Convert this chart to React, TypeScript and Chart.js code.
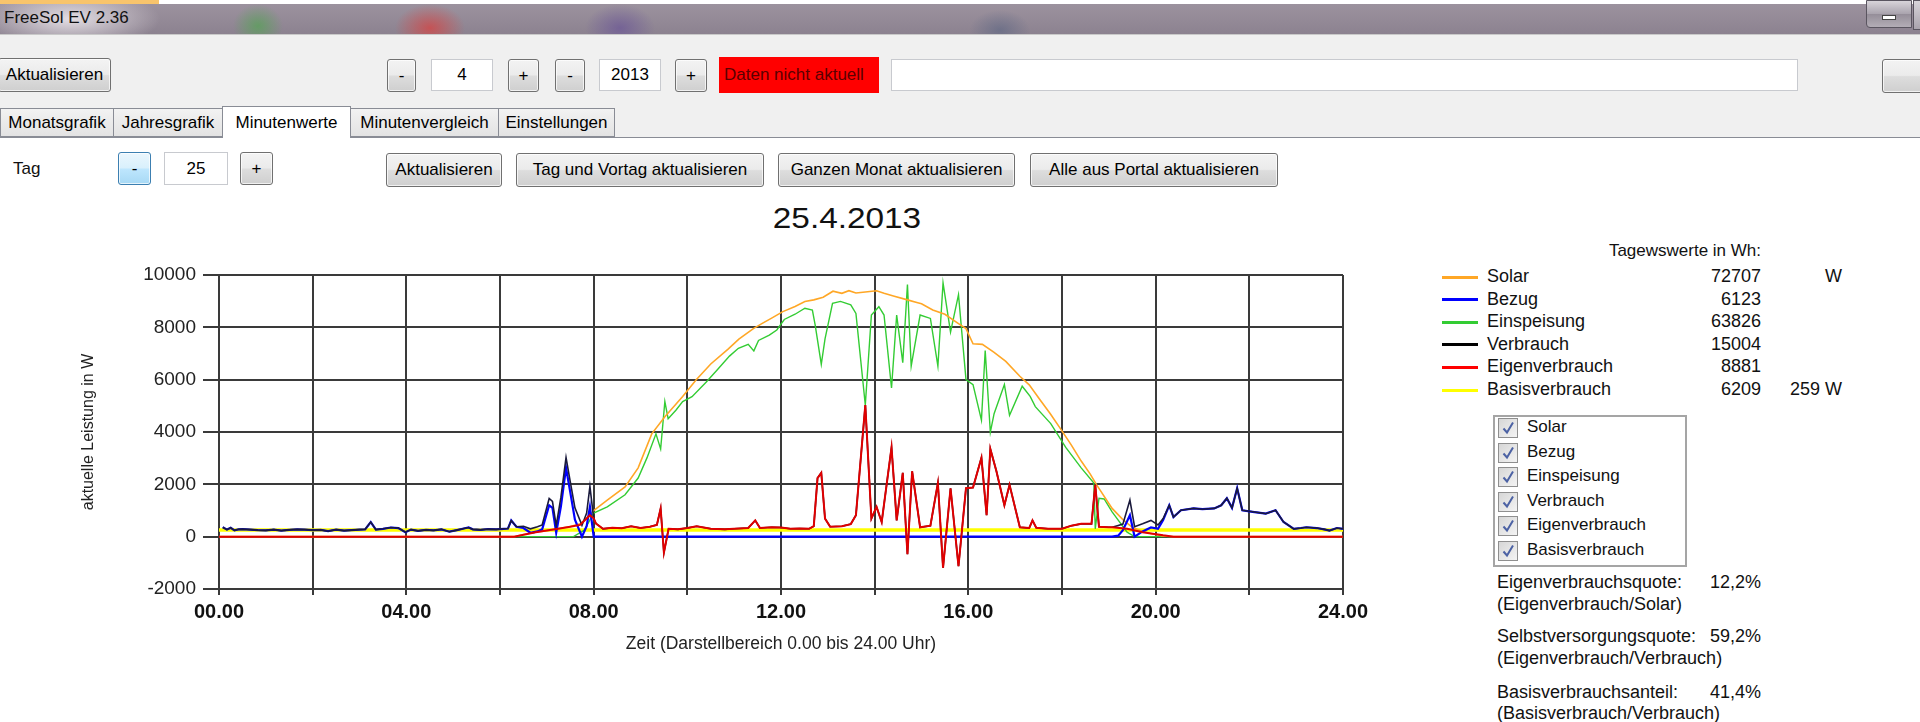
import React, { useEffect, useRef } from "react";
import { Chart, registerables } from "chart.js";

Chart.register(...registerables);

const FONT = '"Liberation Sans", Arial, sans-serif';

// ---------- chart data (hours -> watts) ----------
const solarTimes = [0, 6.3, 6.5, 6.76, 7.0, 7.24, 7.5, 7.71, 7.85, 8.0, 8.29, 8.67, 8.95, 9.24, 9.52, 9.9, 10.19, 10.5, 10.87, 11.1, 11.41, 11.6, 11.8, 12.04, 12.3, 12.51, 12.7, 12.9, 13.11, 13.3, 13.45, 13.6, 13.8, 14.04, 14.2, 14.4, 14.7, 14.9, 15.0, 15.24, 15.5, 15.79, 15.95, 16.1, 16.3, 16.55, 16.8, 17.1, 17.3, 17.53, 17.75, 17.97, 18.2, 18.41, 18.6, 18.74, 19.07, 19.3, 19.5, 19.72, 19.94, 20.15, 20.38, 24];
const solarValues = [0, 0, 80, 170, 230, 300, 390, 490, 700, 1000, 1400, 1900, 2630, 3930, 4580, 5360, 6000, 6600, 7170, 7550, 7950, 8150, 8350, 8600, 8800, 8990, 9050, 9150, 9380, 9300, 9400, 9310, 9350, 9400, 9300, 9200, 9050, 8950, 8900, 8660, 8500, 8140, 7950, 7370, 7350, 7040, 6700, 6130, 5800, 5230, 4700, 4120, 3500, 2890, 2400, 1980, 1080, 650, 360, 200, 100, 30, 0, 0];

const einTimes = [0, 7.57, 7.8, 8.0, 8.29, 8.67, 8.95, 9.14, 9.33, 9.43, 9.52, 9.59, 9.76, 9.9, 10.1, 10.4, 10.65, 10.9, 11.09, 11.3, 11.42, 11.52, 11.75, 11.91, 12.07, 12.3, 12.51, 12.67, 12.73, 12.86, 12.94, 13.1, 13.27, 13.49, 13.6, 13.8, 13.93, 14.09, 14.2, 14.36, 14.47, 14.6, 14.7, 14.78, 14.97, 15.19, 15.35, 15.46, 15.62, 15.79, 15.95, 16.1, 16.28, 16.36, 16.47, 16.55, 16.77, 16.88, 17.15, 17.32, 17.43, 17.76, 18.08, 18.41, 18.68, 18.71, 18.79, 18.9, 19.07, 19.39, 19.55, 24];
const einValues = [0, 0, 250, 900, 1140, 1600, 2240, 3020, 3930, 3350, 5160, 4510, 4840, 5160, 5350, 5900, 6400, 6900, 7200, 7350, 7100, 7500, 7700, 7900, 8300, 8500, 8730, 8660, 8080, 6590, 7560, 8920, 8990, 8860, 8530, 5030, 8470, 8790, 8470, 5680, 8470, 6650, 9640, 6520, 8470, 8340, 6520, 9700, 7820, 9250, 6000, 5810, 4450, 7110, 3990, 4700, 5810, 4640, 5750, 5360, 4970, 4320, 3410, 2630, 2050, 300, 1470, 1440, 950, 170, 0, 0];

const eigenMorningTimes = [0, 6.3, 6.76, 7.24, 7.5, 7.71, 7.92, 8.0];
const eigenMorningValues = [0, 0, 170, 300, 380, 450, 820, 700];
const dayTimes = [8.05, 8.2, 8.4, 8.6, 8.8, 9.0, 9.2, 9.35, 9.43, 9.5, 9.6, 9.8, 10.0, 10.2, 10.5, 10.8, 11.0, 11.3, 11.45, 11.55, 11.8, 12.0, 12.2, 12.4, 12.6, 12.7, 12.78, 12.86, 12.94, 13.05, 13.3, 13.49, 13.6, 13.8, 13.93, 14.04, 14.15, 14.36, 14.47, 14.6, 14.7, 14.8, 14.97, 15.19, 15.35, 15.46, 15.62, 15.79, 15.95, 16.1, 16.28, 16.39, 16.47, 16.6, 16.77, 16.88, 17.1, 17.3, 17.37, 17.45, 17.7, 18.0, 18.2, 18.41, 18.63, 18.71, 18.79, 19.0];
const dayEigen = [500, 300, 340, 320, 400, 330, 380, 450, 1076, -610, 300, 280, 330, 400, 300, 280, 300, 330, 620, 330, 360, 350, 300, 310, 300, 400, 2240, 2440, 690, 380, 400, 480, 820, 5030, 690, 1140, 560, 3410, 620, 2440, -670, 2500, 360, 420, 2050, -1190, 1850, -1130, 1850, 1880, 3020, 820, 3350, 2500, 1200, 1980, 360, 330, 620, 340, 300, 300, 420, 490, 490, 1980, 380, 360];
const eigenEveningTimes = [19.07, 19.39, 19.72, 20.16, 20.38, 24];
const eigenEveningValues = [360, 300, 170, 50, 0, 0];

const nightTimes = [0.08, 0.17, 0.25, 0.33, 0.42, 0.5, 0.67, 0.83, 1.0, 1.17, 1.33, 1.5, 1.67, 1.83, 2.0, 2.17, 2.33, 2.5, 2.67, 2.83, 3.0, 3.12, 3.24, 3.35, 3.5, 3.67, 3.83, 3.98, 4.1, 4.25, 4.42, 4.58, 4.75, 4.92, 5.08, 5.25, 5.33, 5.42, 5.58, 5.75, 5.92, 6.08, 6.17];
const nightVerbrauch = [360, 270, 340, 240, 280, 290, 270, 250, 240, 270, 230, 260, 280, 270, 250, 260, 210, 270, 230, 250, 270, 280, 560, 270, 300, 350, 330, 170, 270, 220, 260, 240, 280, 190, 250, 320, 350, 280, 260, 290, 280, 300, 310];
const morningTimes = [6.24, 6.35, 6.5, 6.65, 6.8, 6.9, 7.05, 7.12, 7.2, 7.3, 7.41, 7.5, 7.6, 7.75, 7.85, 7.92, 8.0];
const morningVerbrauch = [620, 380, 400, 300, 380, 450, 1460, 1350, 420, 1500, 3020, 2100, 1100, 430, 900, 1920, 700];
const morningBezug = [620, 380, 330, 150, 200, 280, 1200, 1100, 150, 1150, 2630, 1700, 650, 0, 400, 1140, 0];
const bezugDayTimes = [8.05, 19.0];
const bezugDayValues = [0, 0];
const duskTimes = [19.07, 19.2, 19.3, 19.45, 19.55, 19.72, 19.9, 20.05, 20.16, 20.29];
const duskVerbrauch = [360, 430, 480, 1400, 380, 490, 620, 450, 690, 1200];
const duskBezug = [0, 40, 250, 820, 0, 200, 350, 300, 640, 1200];
const lateTimes = [20.38, 20.54, 20.81, 21.0, 21.25, 21.4, 21.52, 21.63, 21.74, 21.85, 22.07, 22.35, 22.56, 22.73, 22.95, 23.1, 23.22, 23.44, 23.6, 23.71, 23.87, 24.0];
const lateVerbrauch = [750, 1010, 1080, 1050, 1080, 1200, 1470, 1100, 1850, 1010, 950, 880, 1010, 560, 300, 330, 360, 330, 280, 230, 330, 300];

const basisTimes = [0, 24];
const basisValues = [259, 259];

const yTicks = [-2000, 0, 2000, 4000, 6000, 8000, 10000];
const xLabelHours = [0, 4, 8, 12, 16, 20, 24];

// ---------- side panel data ----------
const seriesNames = ["Solar", "Bezug", "Einspeisung", "Verbrauch", "Eigenverbrauch", "Basisverbrauch"];
const seriesColors = ["#ffa726", "#0000ff", "#33cc33", "#000000", "#ff0000", "#ffff00"];
const dailyWh = ["72707", "6123", "63826", "15004", "8881", "6209"];
const extraCol = ["W", "", "", "", "", "259 W"];
const quoteLabels = ["Eigenverbrauchsquote:", "Selbstversorgungsquote:", "Basisverbrauchsanteil:"];
const quoteSubs = ["(Eigenverbrauch/Solar)", "(Eigenverbrauch/Verbrauch)", "(Basisverbrauch/Verbrauch)"];
const quoteValues = ["12,2%", "59,2%", "41,4%"];

function pts(...pairs: [number[], number[]][]) {
  const out: { x: number; y: number }[] = [];
  for (const [t, v] of pairs) t.forEach((x, i) => out.push({ x, y: v[i] }));
  return out;
}

const btnBase: React.CSSProperties = {
  position: "absolute",
  boxSizing: "border-box",
  border: "1px solid #707070",
  borderRadius: 3,
  background: "linear-gradient(#f3f3f3 0%, #ebebeb 48%, #dddddd 52%, #cfcfcf 100%)",
  font: `17px ${FONT}`,
  color: "#000",
  display: "flex",
  alignItems: "center",
  justifyContent: "center",
  whiteSpace: "nowrap",
  boxShadow: "inset 0 0 0 1px rgba(255,255,255,0.7)",
};

function Btn(p: { x: number; y: number; w: number; h: number; label: string; focus?: boolean }) {
  const st: React.CSSProperties = { ...btnBase, left: p.x, top: p.y, width: p.w, height: p.h };
  if (p.focus) {
    st.border = "1px solid #3c7fb1";
    st.background = "linear-gradient(#eaf6fd 0%, #d9f0fc 48%, #bee6fd 52%, #a7d9f5 100%)";
  }
  return <div style={st}>{p.label}</div>;
}

function Box(p: { x: number; y: number; w: number; h: number; label: string }) {
  return (
    <div
      style={{
        position: "absolute", left: p.x, top: p.y, width: p.w, height: p.h, boxSizing: "border-box",
        border: "1px solid #c8cacf", background: "#fff", font: `17px ${FONT}`, display: "flex",
        alignItems: "center", justifyContent: "center",
      }}
    >
      {p.label}
    </div>
  );
}

function Tab(p: { x: number; w: number; label: string; sel?: boolean }) {
  return (
    <div
      style={{
        position: "absolute", left: p.x, top: p.sel ? 106 : 108, width: p.w, height: p.sel ? 32 : 29,
        boxSizing: "border-box", border: "1px solid #898c95", borderBottom: p.sel ? "none" : "1px solid #898c95",
        background: p.sel ? "#fff" : "linear-gradient(#f2f2f2, #e3e3e3)", font: `17px ${FONT}`,
        display: "flex", alignItems: "center", justifyContent: "center", whiteSpace: "nowrap", zIndex: p.sel ? 2 : 1,
      }}
    >
      {p.label}
    </div>
  );
}

function Text(p: { x: number; cy: number; text: string; size?: number; right?: boolean }) {
  const s = p.size ?? 18;
  const st: React.CSSProperties = {
    position: "absolute", top: p.cy - 11, height: 22, lineHeight: "22px", font: `${s}px ${FONT}`,
    color: "#111", whiteSpace: "nowrap",
  };
  if (p.right) { st.right = 1920 - p.x; st.textAlign = "right"; } else st.left = p.x;
  return <div style={st}>{p.text}</div>;
}

function CheckBox(p: { cy: number }) {
  return (
    <div
      style={{
        position: "absolute", left: 1498, top: p.cy - 10, width: 20, height: 20, boxSizing: "border-box",
        border: "1px solid #8f8f8f", background: "linear-gradient(135deg, #d6d6d6, #f4f4f4)",
      }}
    >
      <svg width="18" height="18" style={{ position: "absolute", left: 0, top: 0 }}>
        <path d="M4.5 9.5 L8 13.5 L14 3.5" stroke="#4c62a4" strokeWidth="2" fill="none" />
      </svg>
    </div>
  );
}

export default function App() {
  const ref = useRef<HTMLCanvasElement>(null);

  useEffect(() => {
    const gridColor = "#3a3a3a";
    const chart = new Chart(ref.current!, {
      type: "line",
      data: {
        datasets: [
          { label: "Eigenverbrauch", data: pts([eigenMorningTimes, eigenMorningValues], [dayTimes, dayEigen], [eigenEveningTimes, eigenEveningValues]), borderColor: "#e00000", borderWidth: 2, order: 0 },
          { label: "Verbrauch", data: pts([nightTimes, nightVerbrauch], [morningTimes, morningVerbrauch], [dayTimes, dayEigen], [duskTimes, duskVerbrauch], [lateTimes, lateVerbrauch]), borderColor: "#1a1a3c", borderWidth: 1.6, order: 1 },
          { label: "Bezug", data: pts([nightTimes, nightVerbrauch], [morningTimes, morningBezug], [bezugDayTimes, bezugDayValues], [duskTimes, duskBezug], [lateTimes, lateVerbrauch]), borderColor: "#0000ff", borderWidth: 2.2, order: 2 },
          { label: "Solar", data: pts([solarTimes, solarValues]), borderColor: "#ffa726", borderWidth: 1.6, order: 3 },
          { label: "Einspeisung", data: pts([einTimes, einValues]), borderColor: "#33cc33", borderWidth: 1.4, order: 4 },
          { label: "Basisverbrauch", data: pts([basisTimes, basisValues]), borderColor: "#ffff00", borderWidth: 3.5, order: 5 },
        ],
      },
      options: {
        animation: false,
        responsive: false,
        devicePixelRatio: 1,
        parsing: false as any,
        normalized: true,
        layout: { padding: { top: 85, right: 57, left: 0, bottom: 0 } },
        elements: { point: { radius: 0 }, line: { tension: 0 } },
        plugins: { legend: { display: false }, tooltip: { enabled: false }, title: { display: false } },
        scales: {
          x: {
            type: "linear",
            min: 0,
            max: 24,
            afterFit: (s: any) => { s.height = 81; },
            afterBuildTicks: (s: any) => {
              const t = [];
              for (let h = 0; h <= 24; h += 2) t.push({ value: h });
              s.ticks = t;
            },
            ticks: {
              autoSkip: false,
              maxRotation: 0,
              padding: 5,
              color: "#111",
              font: { family: FONT, size: 20, weight: "bold" },
              callback: (v: any) => (xLabelHours.includes(Number(v)) ? String(v).padStart(2, "0") + ".00" : ""),
            },
            grid: { color: gridColor, lineWidth: 2, tickLength: 6, tickColor: gridColor, drawTicks: true },
            border: { display: true, color: gridColor, width: 2 },
            title: {
              display: true,
              text: "Zeit (Darstellbereich 0.00 bis 24.00 Uhr)",
              color: "#222",
              font: { family: FONT, size: 17.5 },
              padding: { top: 0, bottom: 15 },
            },
          },
          y: {
            type: "linear",
            min: -2000,
            max: 10000,
            afterFit: (s: any) => { s.width = 219; },
            afterBuildTicks: (s: any) => { s.ticks = yTicks.map((v) => ({ value: v })); },
            ticks: { padding: 7, color: "#222", font: { family: FONT, size: 19 }, callback: (v: any) => String(v) },
            grid: { color: gridColor, lineWidth: 2, tickLength: 16, tickColor: gridColor },
            border: { display: true, color: gridColor, width: 2 },
            title: {
              display: true,
              text: "aktuelle Leistung in W",
              color: "#222",
              font: { family: FONT, size: 16 },
              padding: { top: 79, bottom: 0 },
            },
          },
        },
      },
    });
    return () => chart.destroy();
  }, []);

  const rowY = [277, 299.5, 322, 344.5, 367, 390];
  const cbY = [428, 452.5, 477, 501.5, 526, 550.5];
  const qY = [583, 637, 693];
  const qSubY = [605, 659, 714];

  return (
    <div style={{ position: "fixed", left: 0, top: 0, width: 1920, height: 722, overflow: "hidden", background: "#fff", fontFamily: FONT }}>
      {/* top strip */}
      <div style={{ position: "absolute", left: 0, top: 0, width: 159, height: 4, background: "#f8c46c" }} />
      {/* title bar */}
      <div
        style={{
          position: "absolute", left: 0, top: 4, width: 1920, height: 30,
          background:
            "radial-gradient(ellipse 90px 30px at 70px 15px, rgba(235,230,235,0.9), rgba(235,230,235,0) 100%)," +
            "radial-gradient(ellipse 25px 22px at 258px 22px, rgba(90,160,90,0.8), rgba(90,160,90,0))," +
            "radial-gradient(ellipse 35px 24px at 430px 24px, rgba(210,70,70,0.8), rgba(210,70,70,0))," +
            "radial-gradient(ellipse 35px 24px at 620px 24px, rgba(110,90,150,0.8), rgba(110,90,150,0))," +
            "radial-gradient(ellipse 30px 20px at 1000px 26px, rgba(90,100,130,0.6), rgba(90,100,130,0))," +
            "linear-gradient(#9c929e, #8c8290)",
        }}
      >
        <div style={{ position: "absolute", left: 4, top: 4, font: `17px ${FONT}`, color: "#111" }}>FreeSol EV 2.36</div>
        <div
          style={{
            position: "absolute", left: 1866, top: -4, width: 46, height: 28, boxSizing: "border-box",
            border: "1px solid #5a5560", borderRadius: "0 0 0 4px",
            background: "linear-gradient(#d8d4da, #a9a3ad 50%, #958e99 51%, #b3adb6)",
          }}
        >
          <div style={{ position: "absolute", left: 15, top: 14, width: 14, height: 5, background: "#fff", border: "1px solid #444", boxSizing: "border-box" }} />
        </div>
        <div style={{ position: "absolute", left: 1913, top: -4, width: 20, height: 28, border: "1px solid #5a5560", background: "linear-gradient(#d8d4da, #a9a3ad)" }} />
      </div>
      {/* toolbar area */}
      <div style={{ position: "absolute", left: 0, top: 34, width: 1920, height: 103, background: "#f0f0f0", borderTop: "1px solid #c9c9c9" }} />
      <Btn x={-2} y={58} w={113} h={34} label="Aktualisieren" />
      <Btn x={387} y={59} w={29} h={33} label="-" />
      <Box x={431} y={59} w={62} h={32} label="4" />
      <Btn x={508} y={59} w={31} h={33} label="+" />
      <Btn x={555} y={59} w={30} h={33} label="-" />
      <Box x={599} y={59} w={62} h={32} label="2013" />
      <Btn x={675} y={59} w={32} h={33} label="+" />
      <div style={{ position: "absolute", left: 719, top: 57, width: 160, height: 36, background: "#ff0000", font: `17px ${FONT}`, color: "#5a0000", display: "flex", alignItems: "center", paddingLeft: 5, boxSizing: "border-box" }}>
        Daten nicht aktuell
      </div>
      <Box x={891} y={59} w={907} h={32} label="" />
      <Btn x={1882} y={59} w={50} h={34} label="" />
      {/* tabs */}
      <div style={{ position: "absolute", left: 0, top: 137, width: 1920, height: 1, background: "#898c95" }} />
      <Tab x={0} w={114} label="Monatsgrafik" />
      <Tab x={113} w={110} label="Jahresgrafik" />
      <Tab x={222} w={129} label="Minutenwerte" sel />
      <Tab x={350} w={149} label="Minutenvergleich" />
      <Tab x={498} w={117} label="Einstellungen" />
      {/* day row */}
      <Text x={13} cy={170} text="Tag" size={17} />
      <Btn x={118} y={152} w={33} h={33} label="-" focus />
      <Box x={164} y={152} w={64} h={33} label="25" />
      <Btn x={240} y={152} w={33} h={33} label="+" />
      <Btn x={386} y={153} w={116} h={34} label="Aktualisieren" />
      <Btn x={516} y={153} w={248} h={34} label="Tag und Vortag aktualisieren" />
      <Btn x={778} y={153} w={237} h={34} label="Ganzen Monat aktualisieren" />
      <Btn x={1030} y={153} w={248} h={34} label="Alle aus Portal aktualisieren" />
      {/* chart title */}
      <div style={{ position: "absolute", left: 697, top: 202, width: 300, textAlign: "center", font: `29px ${FONT}`, color: "#111", transform: "scaleX(1.15)" }}>
        25.4.2013
      </div>
      <canvas ref={ref} width={1400} height={480} style={{ position: "absolute", left: 0, top: 190, width: 1400, height: 480 }} />
      {/* side panel */}
      <Text x={1761} cy={252} text="Tagewswerte in Wh:" size={17} right />
      {seriesNames.map((n, i) => (
        <React.Fragment key={n}>
          <div style={{ position: "absolute", left: 1442, top: rowY[i] - 1.5, width: 36, height: 3, background: seriesColors[i] }} />
          <Text x={1487} cy={rowY[i]} text={n} />
          <Text x={1761} cy={rowY[i]} text={dailyWh[i]} right />
          {extraCol[i] ? <Text x={1842} cy={rowY[i]} text={extraCol[i]} right /> : null}
        </React.Fragment>
      ))}
      <div style={{ position: "absolute", left: 1493, top: 415, width: 194, height: 152, boxSizing: "border-box", border: "2px solid #a5a5a5" }} />
      {seriesNames.map((n, i) => (
        <React.Fragment key={"cb" + n}>
          <CheckBox cy={cbY[i]} />
          <Text x={1527} cy={cbY[i]} text={n} size={17} />
        </React.Fragment>
      ))}
      {quoteLabels.map((q, i) => (
        <React.Fragment key={q}>
          <Text x={1497} cy={qY[i]} text={q} />
          <Text x={1497} cy={qSubY[i]} text={quoteSubs[i]} />
          <Text x={1761} cy={qY[i]} text={quoteValues[i]} right />
        </React.Fragment>
      ))}
    </div>
  );
}
